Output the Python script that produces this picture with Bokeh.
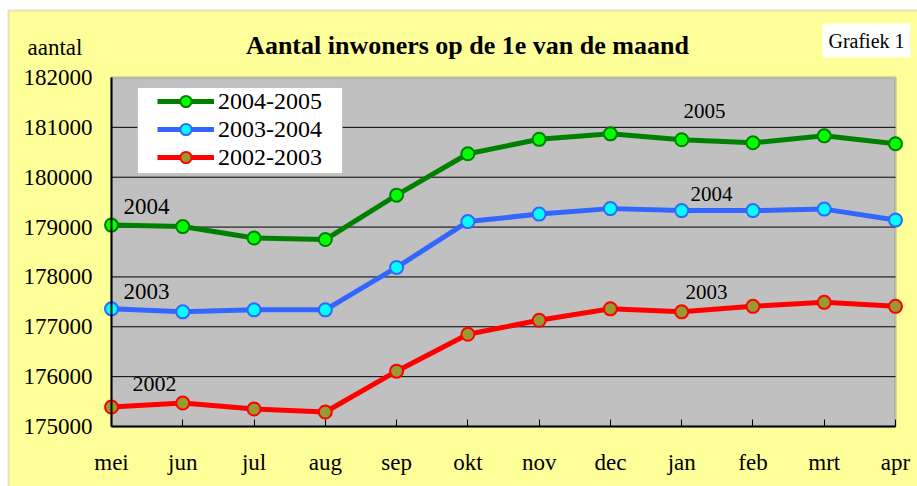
from bokeh.plotting import figure
from bokeh.models import (Range1d, FixedTicker, BoxAnnotation, Label, Legend,
                          LegendItem, NumeralTickFormatter)
from bokeh.embed import file_html
from bokeh.resources import INLINE

# ---------------- data ----------------
months = ["mei", "jun", "jul", "aug", "sep", "okt", "nov", "dec", "jan", "feb", "mrt", "apr"]
series_names = ["2004-2005", "2003-2004", "2002-2003"]
s2004_2005 = [179040, 179010, 178780, 178750, 179640, 180470, 180760, 180870, 180750, 180690, 180830, 180670]
s2003_2004 = [177360, 177300, 177340, 177340, 178190, 179110, 179260, 179370, 179330, 179330, 179360, 179140]
s2002_2003 = [175390, 175470, 175350, 175290, 176110, 176850, 177130, 177360, 177300, 177410, 177490, 177410]
y_ticks = [175000, 176000, 177000, 178000, 179000, 180000, 181000, 182000]
year_labels = ["2004", "2003", "2002", "2005", "2004", "2003"]
title_text = "Aantal inwoners op de 1e van de maand"
y_title = "aantal"
tag_text = "Grafiek 1"

# ---------------- styling / layout ----------------
FONT = "Liberation Serif"
YELLOW = "#FFFF99"
GRAY = "#C0C0C0"
W, H = 917, 486
FRAME_L, FRAME_R, FRAME_T, FRAME_B = 111, 895, 77, 426   # canvas px of plot area
n = len(months) - 1
PXX = (FRAME_R - FRAME_L) / n
PXY = (FRAME_B - FRAME_T) / (y_ticks[-1] - y_ticks[0])
BASE_SHIFT = 7  # label baseline correction


def dx(px):
    return (px - FRAME_L) / PXX


def dy(py):
    return y_ticks[-1] - (py - FRAME_T) / PXY


def by(py):
    return dy(py - BASE_SHIFT)


p = figure(width=W, height=H, x_range=Range1d(dx(0), dx(W)),
           y_range=Range1d(dy(H), dy(0)), title=None,
           output_backend="svg", toolbar_location=None,
           min_border_left=0, min_border_right=0, min_border_top=0, min_border_bottom=0)
p.background_fill_color = "white"
p.border_fill_color = "white"
p.outline_line_color = None
p.xgrid.visible = False
p.ygrid.visible = False

# outer yellow panel with grey frame
p.add_layout(BoxAnnotation(left=dx(8), top=dy(10), right=dx(W + 20), bottom=dy(H + 20),
                           fill_color=YELLOW, fill_alpha=1, line_color="#A0A0A0",
                           line_width=2, level="underlay"))
# plot area background
p.add_layout(BoxAnnotation(left=0, right=n, bottom=y_ticks[0], top=y_ticks[-1],
                           fill_color=GRAY, fill_alpha=1, line_color="#808080",
                           line_width=3, level="underlay"))

# gridlines
gv = y_ticks[1:-1]
p.segment(x0=[0] * len(gv), x1=[n] * len(gv), y0=gv, y1=gv,
          line_color="black", line_width=1)

x = list(range(len(months)))
colors = [("#008000", "#00FF00"), ("#3366FF", "#00FFFF"), ("#FF0000", "#999933")]
items = []
for name, vals, (lc, fc) in zip(series_names, [s2004_2005, s2003_2004, s2002_2003], colors):
    r1 = p.line(x, vals, line_color=lc, line_width=5)
    r2 = p.scatter(x, vals, size=13, fill_color=fc, line_color=lc, line_width=2)
    items.append(LegendItem(label=name, renderers=[r1, r2]))

# axes
xa = p.xaxis[0]
xa.fixed_location = y_ticks[0]
xa.ticker = FixedTicker(ticks=x)
xa.major_label_overrides = {i: m for i, m in enumerate(months)}
xa.bounds = (0, n)
xa.major_tick_in = 7
xa.major_tick_out = 0
xa.minor_tick_line_color = None
xa.major_tick_line_color = "black"
xa.axis_line_color = "black"
xa.axis_line_width = 2
xa.major_label_text_font = FONT
xa.major_label_text_font_size = "23px"
xa.major_label_text_color = "black"
xa.major_label_standoff = 23

ya = p.yaxis[0]
ya.fixed_location = 0
ya.ticker = FixedTicker(ticks=y_ticks)
ya.formatter = NumeralTickFormatter(format="0")
ya.bounds = (y_ticks[0], y_ticks[-1])
ya.major_tick_in = 0
ya.major_tick_out = 0
ya.minor_tick_line_color = None
ya.axis_line_color = "black"
ya.axis_line_width = 2
ya.major_label_text_font = FONT
ya.major_label_text_font_size = "23px"
ya.major_label_text_color = "black"
ya.major_label_standoff = 19

# legend
p.add_layout(BoxAnnotation(left=dx(137), right=dx(342), top=dy(87), bottom=dy(173),
                           fill_color="white", fill_alpha=1, line_color="#808080",
                           line_width=1, level="annotation"))
legend = Legend(items=items, location=(157, H - 171),
                orientation="vertical", background_fill_alpha=0, border_line_color=None,
                padding=0, spacing=0, margin=0, label_text_font=FONT,
                label_text_font_size="24px", label_text_color="black",
                label_height=28, glyph_height=28, glyph_width=57, label_standoff=4)
p.add_layout(legend)

# texts
p.add_layout(Label(x=dx(467), y=by(52), text=title_text, text_font=FONT,
                   text_font_style="bold", text_font_size="26px", text_color="black",
                   text_align="center", text_baseline="alphabetic"))
p.add_layout(Label(x=dx(27), y=by(54), text=y_title, text_font=FONT,
                   text_font_size="23px", text_color="black",
                   text_align="left", text_baseline="alphabetic"))
p.add_layout(Label(x=dx(866), y=by(47), text=tag_text, text_font=FONT,
                   text_font_size="20px", text_color="black",
                   text_align="center", text_baseline="alphabetic",
                   background_fill_color="white", padding=6))

label_pos = [(123, 213, 23), (123, 298, 23), (132, 390, 22),
             (683, 117, 21), (690, 200, 21), (685, 298, 21)]
for t, (lx, ly, fs) in zip(year_labels, label_pos):
    p.add_layout(Label(x=dx(lx), y=by(ly), text=t, text_font=FONT,
                       text_font_size=f"{fs}px", text_color="black",
                       text_align="left", text_baseline="alphabetic"))

open("out.html", "w").write(file_html(p, INLINE))
